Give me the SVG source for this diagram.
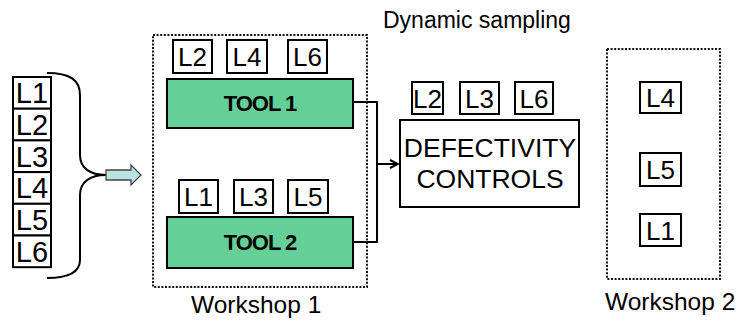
<svg xmlns="http://www.w3.org/2000/svg" width="743" height="322" viewBox="0 0 743 322">
<defs>
<style>
text{font-family:"Liberation Sans",Arial,sans-serif;fill:#000}
.lb{fill:#fff;stroke:#000;stroke-width:2}
.tool{fill:#64cf96;stroke:#000;stroke-width:2}
.dot{fill:none;stroke:#111;stroke-width:2;stroke-dasharray:2 1.6}
.ln{fill:none;stroke:#000;stroke-width:2}
.t24{font-size:26px;text-anchor:middle}
.t28{font-size:29px;text-anchor:middle}
.tb{font-size:22px;font-weight:bold;text-anchor:middle;letter-spacing:-1px}
.big{font-size:26.5px;text-anchor:middle}
.lab{font-size:23px}
.ws{font-size:24.5px}
</style>
<marker id="ah" viewBox="0 0 10 10" refX="9" refY="5" markerWidth="5" markerHeight="5" orient="auto" markerUnits="strokeWidth">
<path d="M1,1 L9,5 L1,9" fill="none" stroke="#000" stroke-width="2"/>
</marker>
</defs>
<rect width="743" height="322" fill="#fff"/>

<text class="lab" x="383" y="28">Dynamic sampling</text>

<g id="lots">
<rect class="lb" x="13" y="77" width="38" height="31.7"/><text class="t28" x="32" y="103.3">L1</text>
<rect class="lb" x="13" y="108.7" width="38" height="31.7"/><text class="t28" x="32" y="135">L2</text>
<rect class="lb" x="13" y="140.4" width="38" height="31.7"/><text class="t28" x="32" y="166.7">L3</text>
<rect class="lb" x="13" y="172.1" width="38" height="31.7"/><text class="t28" x="32" y="198.4">L4</text>
<rect class="lb" x="13" y="203.8" width="38" height="31.7"/><text class="t28" x="32" y="230.1">L5</text>
<rect class="lb" x="13" y="235.5" width="38" height="31.7"/><text class="t28" x="32" y="261.8">L6</text>
</g>

<g id="brace">
<path class="ln" stroke="#222" stroke-width="1.4" d="M47,73 C70,73 80,80 80,95 L80,155 C80,168 90,175 106,175 C90,175 80,182 80,195 L80,260 C80,272 70,278 47,278"/>
</g>

<g id="feed-arrow">
<path d="M106,170 L131,170 L131,165 L141,175 L131,185 L131,180 L106,180 Z" fill="#b9e2e2" stroke="#444" stroke-width="1.3"/>
</g>

<g id="workshop1">
<rect class="dot" x="153" y="35" width="214" height="252"/>
<text class="ws" x="191" y="313">Workshop 1</text>
</g>

<g id="tool1">
<rect class="lb" x="173" y="40" width="39" height="33"/><text class="t24" x="192.5" y="66">L2</text>
<rect class="lb" x="227" y="40" width="40" height="33"/><text class="t24" x="247" y="66">L4</text>
<rect class="lb" x="288" y="40" width="39" height="33"/><text class="t24" x="307.5" y="66">L6</text>
<rect class="tool" x="167" y="79" width="186" height="49"/>
<text class="tb" x="260" y="111">TOOL 1</text>
</g>

<g id="tool2">
<rect class="lb" x="179" y="180" width="39" height="33"/><text class="t24" x="198.5" y="206">L1</text>
<rect class="lb" x="234" y="180" width="39" height="33"/><text class="t24" x="253.5" y="206">L3</text>
<rect class="lb" x="288" y="180" width="40" height="33"/><text class="t24" x="308" y="206">L5</text>
<rect class="tool" x="167" y="217" width="186" height="51"/>
<text class="tb" x="260" y="249.5">TOOL 2</text>
</g>

<g id="defectivity">
<rect class="lb" x="412" y="82" width="31" height="32"/><text class="t24" x="427.5" y="107.5">L2</text>
<rect class="lb" x="460" y="82" width="39" height="32"/><text class="t24" x="479.5" y="107.5">L3</text>
<rect class="lb" x="515" y="82" width="38" height="32"/><text class="t24" x="534" y="107.5">L6</text>
<rect class="lb" x="400" y="120" width="179" height="87"/>
<text class="big" x="490" y="157">DEFECTIVITY</text>
<text class="big" x="490" y="188">CONTROLS</text>
</g>

<g id="workshop2">
<rect class="dot" x="607" y="49" width="113" height="230"/>
<rect class="lb" x="640" y="82" width="41" height="31"/><text class="t24" x="660.5" y="107">L4</text>
<rect class="lb" x="640" y="153" width="41" height="33"/><text class="t24" x="660.5" y="179">L5</text>
<rect class="lb" x="640" y="214" width="41" height="32"/><text class="t24" x="660.5" y="239.5">L1</text>
<text class="ws" x="605" y="310">Workshop 2</text>
</g>

<g id="connectors">
<path class="ln" d="M353,102 L377,102 L377,242 L353,242"/>
<path class="ln" d="M377,164 L398,164" marker-end="url(#ah)"/>
</g>
</svg>
